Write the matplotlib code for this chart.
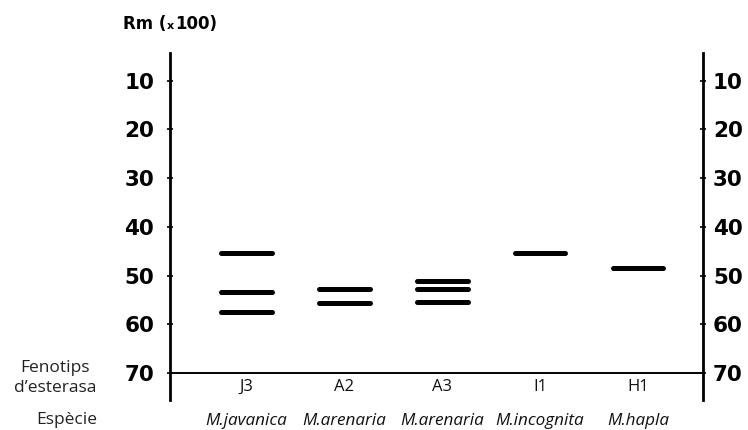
import matplotlib.pyplot as plt
import matplotlib.transforms as mtransforms

# esterase phenotypes and species
fenotips = ["J3", "A2", "A3", "I1", "H1"]
especies = ["M.javanica", "M.arenaria", "M.arenaria", "M.incognita", "M.hapla"]

# band positions, Rm (x100)
bandes_J3 = [45.4, 53.4, 57.4]
bandes_A2 = [52.8, 55.6]
bandes_A3 = [51.1, 52.8, 55.5]
bandes_I1 = [45.4]
bandes_H1 = [48.4]
bandes = [bandes_J3, bandes_A2, bandes_A3, bandes_I1, bandes_H1]

yticks = [10, 20, 30, 40, 50, 60, 70]

fig = plt.figure(figsize=(7.48, 4.30), dpi=100)
ax = fig.add_axes([0.2273, 0.0698, 0.9398 - 0.2273, 0.8767 - 0.0698])

half = 0.26
for i, bb in enumerate(bandes):
    for rm in bb:
        ax.plot([i - half, i + half], [rm, rm], color="black", lw=3.6,
                solid_capstyle="round")

ax.set_xlim(-0.776, 4.663)
ax.set_ylim(75.56, 4.31)

# x axis drawn as a line at 70
ax.axhline(70, color="black", lw=1.4)

ax.spines["top"].set_visible(False)
ax.spines["bottom"].set_visible(False)
ax.spines["left"].set_linewidth(2)
ax.spines["right"].set_linewidth(2)

ax.set_yticks(yticks)
ax.set_yticklabels([str(t) for t in yticks], fontfamily="DejaVu Sans",
                   fontweight="bold", fontsize=15.5)
ax.tick_params(axis="y", left=True, right=True, labelleft=True, labelright=True,
               direction="inout", length=5, width=1.2, pad=9)
ax.set_xticks([])

# right labels sit a bit closer to the spine
shift = mtransforms.ScaledTranslation(-6 / 100, 0, fig.dpi_scale_trans)
for tk in ax.yaxis.get_major_ticks():
    tk.label2.set_transform(tk.label2.get_transform() + shift)

for i, f in enumerate(fenotips):
    ax.text(i, 72.8, f, ha="center", va="center", fontsize=12,
            fontfamily="Open Sans", color="#111111")

for i, e in enumerate(especies):
    ax.text(i, -0.06, e, ha="center", va="center", fontsize=12.3, style="italic",
            fontfamily="Open Sans", color="#111111",
            transform=ax.get_xaxis_transform())

fig.text(55 / 748, 1 - 378 / 430, "Fenotips\nd\u2019esterasa", ha="center",
         va="center", fontsize=12.5, fontfamily="Open Sans", linespacing=1.3,
         color="#222222")
fig.text(97 / 748, 1 - 420 / 430, "Esp\u00e8cie", ha="right", va="center",
         fontsize=12.5, fontfamily="Open Sans", color="#222222")

fig.text(123 / 748, 1 - 24 / 430, "Rm (", ha="left", va="center",
         fontsize=12, fontfamily="DejaVu Sans", fontweight="bold")
fig.text(167 / 748, 1 - 26 / 430, "x", ha="left", va="center",
         fontsize=8, fontfamily="DejaVu Sans", fontweight="bold")
fig.text(175 / 748, 1 - 24 / 430, "100)", ha="left", va="center",
         fontsize=12, fontfamily="DejaVu Sans", fontweight="bold")

fig.savefig("out.png", dpi=100)
